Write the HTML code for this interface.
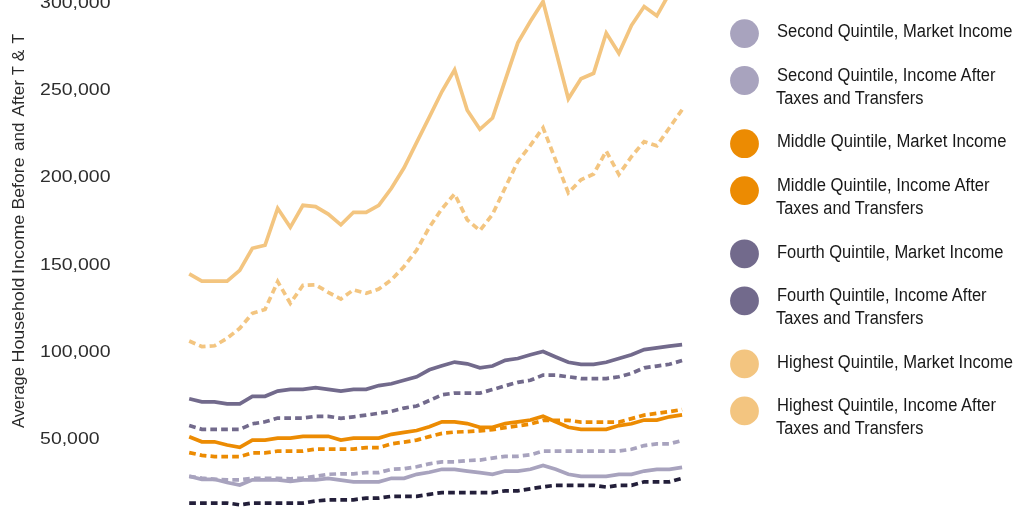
<!DOCTYPE html>
<html lang="en"><head><meta charset="utf-8"><title>Average Household Income Before and After Taxes and Transfers</title>
<style>
html,body{margin:0;padding:0;background:#fff;overflow:hidden}
svg{display:block}
text{font-family:"Liberation Sans",sans-serif}
.yl text{font-size:17px;fill:#2e2e2e}
.yt{font-size:17px;fill:#2a2a2a}
.lg text{font-size:17.6px;fill:#181818}
</style></head><body>
<svg width="1024" height="512" viewBox="0 0 1024 512">
<rect width="1024" height="512" fill="#fff"/>
<g class="yl">
<text x="40.1" y="443.50" textLength="59.4" lengthAdjust="spacingAndGlyphs">50,000</text>
<text x="40.1" y="357.00" textLength="70.4" lengthAdjust="spacingAndGlyphs">100,000</text>
<text x="40.1" y="269.95" textLength="70.4" lengthAdjust="spacingAndGlyphs">150,000</text>
<text x="40.1" y="182.05" textLength="70.4" lengthAdjust="spacingAndGlyphs">200,000</text>
<text x="40.1" y="94.90" textLength="70.4" lengthAdjust="spacingAndGlyphs">250,000</text>
<text x="40.1" y="8.00" textLength="70.4" lengthAdjust="spacingAndGlyphs">300,000</text>
</g>
<text class="yt" transform="translate(23.75 0) rotate(-90)"><tspan x="-428.00" textLength="60.80" lengthAdjust="spacingAndGlyphs">Average</tspan> <tspan x="-362.45" textLength="84.90" lengthAdjust="spacingAndGlyphs">Household</tspan> <tspan x="-274.00" textLength="59.45" lengthAdjust="spacingAndGlyphs">Income</tspan> <tspan x="-209.45" textLength="51.90" lengthAdjust="spacingAndGlyphs">Before</tspan> <tspan x="-151.00" textLength="28.45" lengthAdjust="spacingAndGlyphs">and</tspan> <tspan x="-116.45" textLength="36.45" lengthAdjust="spacingAndGlyphs">After</tspan> <tspan x="-75.00" textLength="8.55" lengthAdjust="spacingAndGlyphs">T</tspan> <tspan x="-61.25" textLength="11.40" lengthAdjust="spacingAndGlyphs">&amp;</tspan> <tspan x="-43.55" textLength="9.55" lengthAdjust="spacingAndGlyphs">T</tspan></text>
<g class="ln">
<path d="M189.20 503.05 L201.84 503.05 L214.48 503.05 L227.11 503.05 L239.75 504.80 L252.39 503.05 L265.03 503.05 L277.67 503.05 L290.30 503.05 L302.94 503.05 L315.58 501.05 L328.22 499.80 L340.86 499.80 L353.49 499.80 L366.13 498.05 L378.77 498.05 L391.41 496.30 L404.05 496.30 L416.68 496.30 L429.32 494.30 L441.96 492.55 L454.60 492.55 L467.24 492.55 L479.87 492.55 L492.51 492.55 L505.15 490.80 L517.79 490.80 L530.43 488.80 L543.06 486.80 L555.70 485.30 L568.34 485.30 L580.98 485.30 L593.62 485.30 L606.25 487.05 L618.89 485.30 L631.53 485.30 L644.17 481.80 L656.81 481.80 L669.44 481.80 L682.08 478.30" fill="none" stroke="#231f3a" stroke-width="3.7" stroke-linejoin="miter" stroke-dasharray="6.7 4.13"/>
<path d="M189.20 476.30 L201.84 479.30 L214.48 479.30 L227.11 482.55 L239.75 485.05 L252.39 479.80 L265.03 479.80 L277.67 479.80 L290.30 481.30 L302.94 479.80 L315.58 479.80 L328.22 478.30 L340.86 480.05 L353.49 481.80 L366.13 481.80 L378.77 481.80 L391.41 478.30 L404.05 478.30 L416.68 474.30 L429.32 472.30 L441.96 469.30 L454.60 469.30 L467.24 471.05 L479.87 472.55 L492.51 474.30 L505.15 471.05 L517.79 471.05 L530.43 469.30 L543.06 465.55 L555.70 469.30 L568.34 474.30 L580.98 476.30 L593.62 476.30 L606.25 476.30 L618.89 474.30 L631.53 474.30 L644.17 471.05 L656.81 469.30 L669.44 469.30 L682.08 467.30" fill="none" stroke="#a8a3be" stroke-width="3.7" stroke-linejoin="miter"/>
<path d="M189.20 476.30 L201.84 478.05 L214.48 479.30 L227.11 479.80 L239.75 479.80 L252.39 478.30 L265.03 478.30 L277.67 478.30 L290.30 478.80 L302.94 478.05 L315.58 476.30 L328.22 474.30 L340.86 473.80 L353.49 473.80 L366.13 472.55 L378.77 472.55 L391.41 469.30 L404.05 468.80 L416.68 466.80 L429.32 463.80 L441.96 461.80 L454.60 461.80 L467.24 460.55 L479.87 460.05 L492.51 458.05 L505.15 456.30 L517.79 456.30 L530.43 454.80 L543.06 451.05 L555.70 451.05 L568.34 451.05 L580.98 451.05 L593.62 451.05 L606.25 451.05 L618.89 451.05 L631.53 449.30 L644.17 445.55 L656.81 443.80 L669.44 443.80 L682.08 440.55" fill="none" stroke="#a8a3be" stroke-width="3.7" stroke-linejoin="miter" stroke-dasharray="6.7 4.13"/>
<path d="M189.20 436.80 L201.84 441.80 L214.48 441.80 L227.11 445.05 L239.75 447.30 L252.39 440.05 L265.03 440.05 L277.67 438.05 L290.30 438.05 L302.94 436.30 L315.58 436.30 L328.22 436.30 L340.86 440.05 L353.49 438.05 L366.13 438.05 L378.77 438.05 L391.41 434.30 L404.05 432.30 L416.68 430.55 L429.32 426.80 L441.96 421.80 L454.60 421.80 L467.24 423.55 L479.87 427.30 L492.51 427.30 L505.15 423.55 L517.79 421.80 L530.43 420.05 L543.06 416.30 L555.70 421.80 L568.34 427.30 L580.98 429.30 L593.62 429.30 L606.25 429.30 L618.89 425.55 L631.53 423.80 L644.17 420.05 L656.81 420.05 L669.44 416.80 L682.08 414.80" fill="none" stroke="#ec8b02" stroke-width="3.7" stroke-linejoin="miter"/>
<path d="M189.20 452.60 L201.84 455.35 L214.48 456.60 L227.11 456.60 L239.75 456.60 L252.39 452.85 L265.03 452.85 L277.67 451.10 L290.30 451.10 L302.94 451.10 L315.58 449.10 L328.22 449.10 L340.86 449.10 L353.49 449.10 L366.13 447.60 L378.77 447.60 L391.41 443.85 L404.05 442.10 L416.68 440.10 L429.32 436.60 L441.96 433.35 L454.60 432.10 L467.24 431.60 L479.87 430.85 L492.51 429.60 L505.15 427.60 L517.79 425.85 L530.43 424.10 L543.06 420.35 L555.70 420.35 L568.34 420.35 L580.98 422.10 L593.62 422.10 L606.25 422.10 L618.89 422.10 L631.53 418.60 L644.17 415.10 L656.81 413.35 L669.44 411.60 L682.08 409.60" fill="none" stroke="#ec8b02" stroke-width="3.7" stroke-linejoin="miter" stroke-dasharray="6.7 4.13"/>
<path d="M189.20 398.80 L201.84 401.80 L214.48 401.80 L227.11 403.80 L239.75 403.80 L252.39 396.30 L265.03 396.30 L277.67 391.05 L290.30 389.30 L302.94 389.30 L315.58 387.55 L328.22 389.30 L340.86 391.05 L353.49 389.30 L366.13 389.30 L378.77 385.55 L391.41 383.80 L404.05 380.30 L416.68 376.80 L429.32 369.80 L441.96 365.80 L454.60 362.05 L467.24 363.80 L479.87 367.80 L492.51 366.05 L505.15 360.30 L517.79 358.55 L530.43 354.80 L543.06 351.55 L555.70 357.05 L568.34 362.30 L580.98 364.30 L593.62 364.30 L606.25 362.30 L618.89 358.55 L631.53 354.80 L644.17 349.55 L656.81 347.80 L669.44 346.05 L682.08 344.55" fill="none" stroke="#726a8c" stroke-width="3.7" stroke-linejoin="miter"/>
<path d="M189.20 425.55 L201.84 429.30 L214.48 429.30 L227.11 429.30 L239.75 429.30 L252.39 423.80 L265.03 421.80 L277.67 418.05 L290.30 418.05 L302.94 418.05 L315.58 416.30 L328.22 416.30 L340.86 418.30 L353.49 416.80 L366.13 415.05 L378.77 413.30 L391.41 411.30 L404.05 408.05 L416.68 406.05 L429.32 400.55 L441.96 394.80 L454.60 393.05 L467.24 393.05 L479.87 393.05 L492.51 389.55 L505.15 385.80 L517.79 382.30 L530.43 380.30 L543.06 375.05 L555.70 375.05 L568.34 376.80 L580.98 378.55 L593.62 378.55 L606.25 378.55 L618.89 376.80 L631.53 373.30 L644.17 367.80 L656.81 366.05 L669.44 364.30 L682.08 360.55" fill="none" stroke="#726a8c" stroke-width="3.7" stroke-linejoin="miter" stroke-dasharray="6.7 4.13"/>
<path d="M189.20 273.80 L201.84 281.05 L214.48 281.05 L227.11 281.05 L239.75 270.30 L252.39 248.30 L265.03 245.30 L277.67 208.30 L290.30 227.30 L302.94 205.30 L315.58 206.55 L328.22 214.05 L340.86 224.80 L353.49 212.30 L366.13 212.30 L378.77 205.30 L391.41 188.30 L404.05 167.80 L416.68 142.40 L429.32 117.10 L441.96 91.55 L454.60 69.80 L467.24 110.30 L479.87 129.30 L492.51 118.05 L505.15 80.30 L517.79 42.80 L530.43 21.30 L543.06 1.55 L555.70 50.30 L568.34 98.80 L580.98 78.80 L593.62 73.30 L606.25 33.05 L618.89 53.30 L631.53 25.30 L644.17 6.55 L656.81 15.80 L669.44 -6.70 L682.08 -24.70" fill="none" stroke="#f3c580" stroke-width="3.7" stroke-linejoin="miter"/>
<path d="M189.20 341.05 L201.84 346.55 L214.48 345.80 L227.11 338.30 L239.75 328.30 L252.39 313.30 L265.03 309.55 L277.67 281.55 L290.30 303.30 L302.94 285.30 L315.58 284.80 L328.22 292.30 L340.86 299.05 L353.49 289.80 L366.13 293.30 L378.77 289.05 L391.41 279.80 L404.05 266.55 L416.68 250.00 L429.32 227.30 L441.96 208.70 L454.60 193.90 L467.24 219.80 L479.87 230.50 L492.51 214.30 L505.15 187.80 L517.79 161.55 L530.43 145.30 L543.06 127.80 L555.70 160.30 L568.34 192.80 L580.98 179.80 L593.62 174.05 L606.25 151.05 L618.89 174.55 L631.53 156.55 L644.17 141.55 L656.81 145.80 L669.44 127.80 L682.08 109.70" fill="none" stroke="#f3c580" stroke-width="3.7" stroke-linejoin="miter" stroke-dasharray="6.68 4.115"/>
</g>
<g class="lg">
<circle cx="744.5" cy="33.6" r="14.4" fill="#a8a3be"/>
<text x="777" y="37.2" textLength="235.5" lengthAdjust="spacingAndGlyphs">Second Quintile, Market Income</text>
<circle cx="744.5" cy="80.5" r="14.4" fill="#a8a3be"/>
<text x="777" y="81.2" textLength="218.5" lengthAdjust="spacingAndGlyphs">Second Quintile, Income After</text>
<text x="776" y="104.0" textLength="147.4" lengthAdjust="spacingAndGlyphs">Taxes and Transfers</text>
<circle cx="744.5" cy="143.7" r="14.4" fill="#ec8b02"/>
<text x="777" y="147.4" textLength="229.5" lengthAdjust="spacingAndGlyphs">Middle Quintile, Market Income</text>
<circle cx="744.5" cy="190.6" r="14.4" fill="#ec8b02"/>
<text x="777" y="191.4" textLength="212.6" lengthAdjust="spacingAndGlyphs">Middle Quintile, Income After</text>
<text x="776" y="214.2" textLength="147.4" lengthAdjust="spacingAndGlyphs">Taxes and Transfers</text>
<circle cx="744.5" cy="253.8" r="14.4" fill="#726a8c"/>
<text x="777" y="257.7" textLength="226.5" lengthAdjust="spacingAndGlyphs">Fourth Quintile, Market Income</text>
<circle cx="744.5" cy="300.8" r="14.4" fill="#726a8c"/>
<text x="777" y="301.4" textLength="209.6" lengthAdjust="spacingAndGlyphs">Fourth Quintile, Income After</text>
<text x="776" y="324.2" textLength="147.4" lengthAdjust="spacingAndGlyphs">Taxes and Transfers</text>
<circle cx="744.5" cy="363.9" r="14.4" fill="#f3c580"/>
<text x="777" y="367.8" textLength="236.0" lengthAdjust="spacingAndGlyphs">Highest Quintile, Market Income</text>
<circle cx="744.5" cy="410.9" r="14.4" fill="#f3c580"/>
<text x="777" y="411.2" textLength="219.0" lengthAdjust="spacingAndGlyphs">Highest Quintile, Income After</text>
<text x="776" y="434.0" textLength="147.4" lengthAdjust="spacingAndGlyphs">Taxes and Transfers</text>
</g>
</svg>
</body></html>
